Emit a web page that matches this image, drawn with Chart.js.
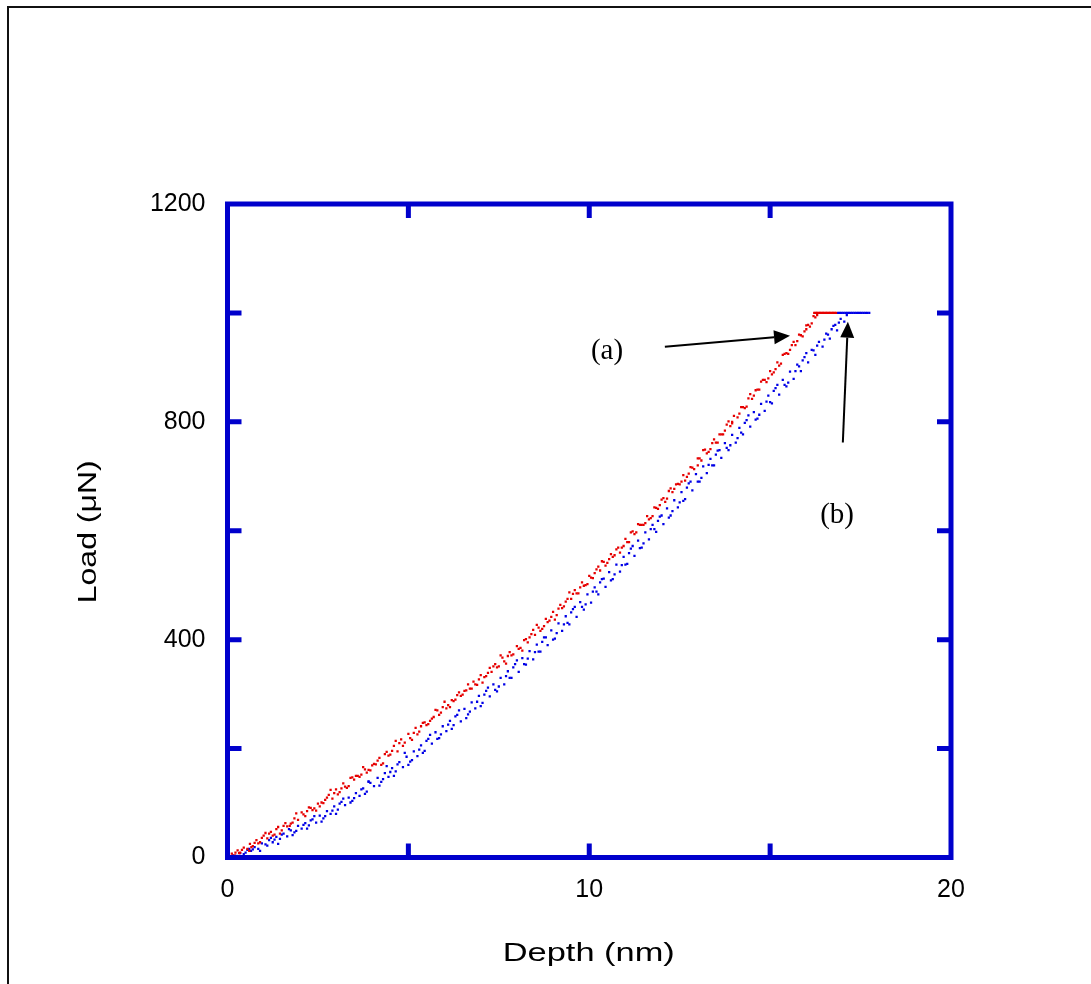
<!DOCTYPE html>
<html>
<head>
<meta charset="utf-8">
<title>Load vs Depth</title>
<script src="https://cdn.jsdelivr.net/npm/chart.js@4/dist/chart.umd.min.js"></script>
<style>
  html, body { margin: 0; padding: 0; background: #fff; }
  #wrap { width: 1091px; height: 984px; }
</style>
</head>
<body>
<div id="wrap"><canvas id="loadChart" width="1091" height="984"></canvas></div>
<script>
'use strict';

/* #################### data #################### */
// axis ranges and labelled ticks
let depthRange = [0, 20];
let loadRange = [0, 1200];
let depthTickLabels = [0, 10, 20];
let loadTickLabels = [0, 400, 800, 1200];

// (a) loading curve, red
let redDepth = [
  0.05, 0.12, 0.2, 0.28, 0.35, 0.45, 0.55, 0.62, 0.7, 0.8, 0.9, 1.0, 1.1, 1.2, 1.3, 1.4, 1.5, 1.6, 1.72, 1.85,
  1.95, 2.05, 2.15, 2.3, 2.4, 2.5, 2.6, 2.7, 2.8, 2.9, 3.0, 3.1, 3.2, 3.3, 3.4, 3.5, 3.6, 3.7, 3.8, 3.9,
  4.0, 4.1, 4.2, 4.3, 4.4, 4.5, 4.6, 4.7, 4.8, 4.9, 5.0, 5.1, 5.2, 5.3, 5.4, 5.5, 5.6, 5.7, 5.8, 5.9,
  6.0, 6.1, 6.2, 6.3, 6.4, 6.5, 6.6, 6.7, 6.8, 6.9, 7.0, 7.1, 7.2, 7.3, 7.4, 7.5, 7.6, 7.7, 7.8, 7.9,
  8.0, 8.1, 8.2, 8.3, 8.4, 8.5, 8.6, 8.7, 8.8, 8.9, 9.0, 9.1, 9.2, 9.3, 9.4, 9.5, 9.6, 9.7, 9.8, 9.9,
  10.0, 10.1, 10.2, 10.3, 10.4, 10.5, 10.6, 10.7, 10.8, 10.9, 11.0, 11.1, 11.2, 11.3, 11.4, 11.5, 11.6, 11.7, 11.8, 11.9,
  12.0, 12.1, 12.2, 12.3, 12.4, 12.5, 12.6, 12.7, 12.8, 12.9, 13.0, 13.1, 13.2, 13.3, 13.4, 13.5, 13.6, 13.7, 13.8, 13.9,
  14.0, 14.1, 14.2, 14.3, 14.4, 14.5, 14.6, 14.7, 14.8, 14.9, 15.0, 15.1, 15.2, 15.3, 15.4, 15.5, 15.6, 15.7, 15.8, 15.9,
  16.0, 16.1, 16.2, 16.3,
  0.15, 0.4, 0.66, 0.95, 1.25, 1.55, 1.8, 2.1, 2.35, 2.65, 2.95, 3.25, 3.55, 3.85, 4.15, 4.45, 4.75, 5.05, 5.35, 5.65,
  5.95, 6.25, 6.55, 6.85, 7.15, 7.45, 7.75, 8.05, 8.35, 8.65, 8.95, 9.25, 9.55, 9.85, 10.15, 10.45, 10.75, 10.95, 11.25, 11.55,
  11.85, 12.15, 12.45, 12.75, 13.05, 13.35, 13.65, 13.95, 14.25, 14.55, 14.85, 15.15, 15.45, 15.75, 16.05, 16.25,
  0.32, 0.75, 1.15, 1.65, 2.2, 2.75, 3.15, 3.65, 4.05, 4.55, 5.15, 5.55, 6.05, 6.45, 6.95, 7.35, 7.85, 8.25, 8.75, 9.15,
  9.65, 10.05, 10.55, 11.05, 11.45, 11.95, 12.35, 12.85, 13.25, 13.75, 14.15, 14.65, 15.05, 15.55, 15.95,
  0.6, 1.05, 1.45, 1.9, 2.45, 2.85, 3.35, 3.75, 4.25, 4.65, 5.25, 5.75, 6.15, 6.65, 7.05, 7.55, 8.15, 8.55, 9.05, 9.45,
  9.95, 10.35, 10.85, 11.35, 11.75, 12.25, 12.65, 13.15, 13.55, 13.85, 14.35, 14.75, 15.25, 15.65, 16.15,
  0.22, 0.85, 1.35, 1.75, 2.25, 2.55, 3.05, 3.45, 3.95, 4.35, 4.85, 5.45, 5.85, 6.35, 6.75, 7.25, 7.65, 8.45, 8.85, 9.35,
  9.75, 10.25, 10.65, 11.15, 11.65, 12.05, 12.55, 13.0, 13.45, 13.95, 14.45, 14.95, 15.35, 15.85, 16.0,
  16.22, 16.26, 16.3, 16.34, 16.38, 16.42, 16.46, 16.5, 16.54, 16.58, 16.62, 16.66, 16.7, 16.74, 16.78, 16.82
];
let redLoad = [
  2, 7, 4, 13, 9, 18, 16, 25, 21, 32, 28, 40, 35, 47, 42, 56, 50, 63, 58, 72,
  69, 83, 76, 91, 90, 99, 101, 106, 115, 108, 125, 120, 136, 128, 146, 143, 150, 152, 162, 161,
  169, 171, 183, 173, 194, 189, 205, 195, 217, 211, 227, 216, 238, 231, 247, 243, 251, 258, 270, 266,
  286, 280, 289, 290, 303, 299, 307, 310, 323, 317, 335, 331, 339, 341, 355, 351, 367, 356, 377, 373,
  388, 385, 399, 395, 410, 409, 422, 420, 438, 435, 451, 445, 464, 461, 475, 475, 491, 485, 505, 500,
  517, 513, 529, 527, 543, 541, 557, 555, 569, 569, 585, 579, 599, 597, 611, 611, 627, 623, 643, 640,
  657, 653, 673, 671, 685, 685, 702, 699, 717, 713, 733, 729, 749, 745, 761, 762, 777, 777, 795, 792,
  811, 808, 827, 825, 843, 842, 858, 859, 877, 873, 893, 891, 909, 907, 925, 925, 941, 941, 960, 957,
  977, 975, 994, 996,
  3, 14, 19, 36, 40, 58, 64, 79, 87, 100, 118, 130, 150, 156, 178, 187, 210, 219, 241, 255,
  276, 287, 306, 318, 333, 349, 370, 383, 404, 416, 442, 458, 484, 499, 522, 536, 566, 572, 594, 614,
  642, 659, 686, 705, 733, 750, 777, 797, 827, 848, 877, 897, 926, 948, 978, 992,
  8, 27, 44, 57, 85, 110, 127, 148, 172, 196, 229, 245, 274, 297, 327, 351, 371, 401, 425, 457,
  485, 514, 548, 579, 611, 647, 677, 716, 742, 784, 815, 859, 887, 932, 966,
  12, 45, 44, 81, 86, 124, 131, 166, 170, 214, 226, 271, 276, 318, 321, 371, 380, 427, 437, 487,
  502, 544, 560, 612, 627, 678, 692, 748, 762, 801, 828, 874, 903, 947, 981,
  9, 26, 52, 62, 92, 94, 116, 147, 160, 190, 205, 248, 262, 298, 310, 348, 360, 418, 432, 470,
  496, 534, 552, 597, 621, 660, 690, 720, 768, 800, 851, 880, 923, 959, 970,
  1000, 1000, 1000, 1000, 1000, 1000, 1000, 1000, 1000, 1000, 1000, 1000, 1000, 1000, 1000, 1000
];

// (b) curve, blue
let blueDepth = [
  0.08, 0.15, 0.25, 0.35, 0.45, 0.55, 0.65, 0.75, 0.85, 0.95, 1.05, 1.15, 1.25, 1.35, 1.45, 1.55, 1.65, 1.75, 1.85, 1.95,
  2.05, 2.15, 2.25, 2.35, 2.45, 2.55, 2.65, 2.75, 2.85, 2.95, 3.05, 3.15, 3.25, 3.35, 3.45, 3.55, 3.65, 3.75, 3.85, 3.95,
  4.05, 4.15, 4.25, 4.35, 4.45, 4.55, 4.65, 4.75, 4.85, 4.95, 5.05, 5.15, 5.25, 5.35, 5.45, 5.55, 5.65, 5.75, 5.85, 5.95,
  6.05, 6.15, 6.25, 6.35, 6.45, 6.55, 6.65, 6.75, 6.85, 6.95, 7.05, 7.15, 7.25, 7.35, 7.45, 7.55, 7.65, 7.75, 7.85, 7.95,
  8.05, 8.15, 8.25, 8.35, 8.45, 8.55, 8.65, 8.75, 8.85, 8.95, 9.05, 9.15, 9.25, 9.35, 9.45, 9.55, 9.65, 9.75, 9.85, 9.95,
  10.05, 10.15, 10.25, 10.35, 10.45, 10.55, 10.65, 10.75, 10.85, 10.95, 11.05, 11.15, 11.25, 11.35, 11.45, 11.55, 11.65, 11.75, 11.85, 11.95,
  12.05, 12.15, 12.25, 12.35, 12.45, 12.55, 12.65, 12.75, 12.85, 12.95, 13.05, 13.15, 13.25, 13.35, 13.45, 13.55, 13.65, 13.75, 13.85, 13.95,
  14.05, 14.15, 14.25, 14.35, 14.45, 14.55, 14.65, 14.75, 14.85, 14.95, 15.05, 15.15, 15.25, 15.35, 15.45, 15.55, 15.65, 15.75, 15.85, 15.95,
  16.05, 16.15, 16.25, 16.35, 16.45, 16.55, 16.65, 16.75, 16.85, 16.95, 17.05, 17.12,
  0.3, 0.7, 1.1, 1.5, 1.9, 2.3, 2.7, 3.1, 3.5, 3.9, 4.3, 4.7, 5.1, 5.5, 5.9, 6.3, 6.7, 7.1, 7.5, 7.9,
  8.3, 8.7, 9.1, 9.5, 9.9, 10.3, 10.7, 11.1, 11.5, 11.9, 12.3, 12.7, 13.1, 13.5, 13.9, 14.3, 14.7, 15.1, 15.5, 15.9,
  16.3, 16.7,
  0.5, 1.3, 2.1, 2.9, 3.7, 4.5, 5.3, 6.1, 6.9, 7.7, 8.5, 9.3, 10.1, 10.9, 11.7, 12.5, 13.3, 14.1, 14.9, 15.7, 16.5,
  0.4, 0.9, 1.4, 1.8, 2.2, 2.6, 3.0, 3.4, 3.8, 4.2, 4.6, 5.0, 5.4, 5.8, 6.2, 6.6, 7.0, 7.4, 7.8, 8.2,
  8.6, 9.0, 9.4, 9.8, 10.2, 10.6, 11.0, 11.4, 11.8, 12.2, 12.6, 13.0, 13.4, 13.8, 14.2, 14.6, 15.0, 15.4, 15.8, 16.2,
  16.6, 16.9,
  0.6, 1.2, 1.7, 2.4, 3.2, 3.9, 4.4, 4.9, 5.6, 6.4, 7.2, 8.0, 8.8, 9.6, 10.4, 11.2, 12.0, 12.8, 13.6, 14.4,
  15.2, 16.0, 16.8,
  16.88, 16.93, 16.98, 17.03, 17.08, 17.13, 17.18, 17.23, 17.28, 17.33, 17.38, 17.43, 17.48, 17.53, 17.58, 17.63, 17.68, 17.74
];
let blueLoad = [
  1, 4, 3, 8, 6, 14, 12, 19, 16, 26, 24, 32, 28, 38, 34, 44, 39, 50, 46, 58,
  53, 63, 59, 70, 64, 77, 72, 85, 80, 94, 88, 102, 96, 110, 104, 118, 113, 127, 121, 137,
  131, 146, 139, 155, 148, 164, 158, 175, 166, 185, 176, 195, 186, 206, 196, 218, 209, 230, 219, 241,
  232, 251, 243, 262, 250, 273, 263, 285, 274, 297, 284, 306, 296, 318, 305, 330, 318, 342, 330, 355,
  341, 366, 354, 379, 364, 391, 378, 404, 390, 417, 402, 430, 416, 443, 428, 456, 442, 469, 455, 483,
  468, 496, 483, 511, 497, 524, 511, 538, 525, 552, 539, 567, 554, 582, 569, 597, 584, 611, 598, 626,
  612, 641, 628, 656, 643, 671, 658, 687, 674, 704, 690, 718, 706, 732, 720, 747, 734, 761, 748, 776,
  762, 789, 777, 803, 791, 818, 806, 833, 820, 848, 834, 862, 850, 877, 865, 892, 879, 905, 893, 919,
  909, 932, 923, 947, 938, 962, 953, 976, 968, 989, 984, 996,
  2, 15, 22, 42, 49, 68, 76, 99, 109, 139, 144, 171, 179, 214, 226, 259, 268, 299, 314, 349,
  365, 396, 412, 450, 465, 505, 520, 559, 577, 618, 636, 679, 697, 740, 757, 798, 813, 857, 872, 913,
  940, 970,
  9, 33, 60, 86, 125, 157, 198, 244, 286, 333, 377, 428, 488, 537, 603, 652, 721, 770, 837, 893, 951,
  1, 12, 25, 41, 53, 66, 80, 101, 117, 132, 150, 170, 192, 218, 236, 256, 278, 308, 330, 355,
  378, 400, 431, 460, 488, 509, 538, 568, 603, 624, 655, 690, 720, 752, 780, 804, 836, 868, 902, 931,
  960, 982,
  16, 36, 52, 76, 108, 140, 168, 192, 225, 270, 312, 362, 404, 460, 512, 572, 628, 690, 748, 812,
  868, 926, 978,
  1000, 1000, 1000, 1000, 1000, 1000, 1000, 1000, 1000, 1000, 1000, 1000, 1000, 1000, 1000, 1000, 1000, 1000
];

// annotation labels and arrow ends, in data units [depth, load]
let labelA = { text: '(a)', at: [10.49, 929] };
let arrowA = { from: [12.09, 938], to: [15.55, 958] };
let labelB = { text: '(b)', at: [16.85, 629] };
let arrowB = { from: [17.01, 762], to: [17.15, 984] };

/* #################### helpers #################### */
function toPoints(xs, ys) {
  let pts = [];
  for (let idx = 0; idx < xs.length; idx++) {
    pts.push({ x: xs[idx], y: ys[idx] });
  }
  return pts;
}

const frameBlue = '#0000cc';

//  draw a stretched text, centred on (cx, cy)
function stretchedText(ctx, text, cx, cy, width, angle) {
  ctx.save();
  ctx.translate(cx, cy);
  ctx.rotate(angle);
  let natural = ctx.measureText(text).width;
  ctx.scale(width / natural, 1);
  ctx.textAlign = 'center';
  ctx.textBaseline = 'middle';
  ctx.fillText(text, 0, 0);
  ctx.restore();
}

function drawArrow(ctx, x1, y1, x2, y2, headLen, headHalf) {
  let ang = Math.atan2(y2 - y1, x2 - x1);
  let bx = x2 - headLen * Math.cos(ang);
  let by = y2 - headLen * Math.sin(ang);
  ctx.beginPath();
  ctx.moveTo(x1, y1);
  ctx.lineTo(bx, by);
  ctx.stroke();
  ctx.beginPath();
  ctx.moveTo(x2, y2);
  ctx.lineTo(bx + headHalf * Math.sin(ang), by - headHalf * Math.cos(ang));
  ctx.lineTo(bx - headHalf * Math.sin(ang), by + headHalf * Math.cos(ang));
  ctx.closePath();
  ctx.fill();
}

/* frame, inward ticks, titles and arrows */
const decorPlugin = {
  id: 'decor',
  beforeDraw(chart) {
    let ctx = chart.ctx;
    ctx.save();
    ctx.fillStyle = '#ffffff';
    ctx.fillRect(0, 0, chart.width, chart.height);
    ctx.strokeStyle = '#111111';
    ctx.lineWidth = 2;
    ctx.strokeRect(8, 7, chart.width + 50, chart.height + 50);
    ctx.restore();
  },
  afterDraw(chart) {
    let ctx = chart.ctx;
    let xs = chart.scales.x;
    let ys = chart.scales.y;
    let area = chart.chartArea;
    ctx.save();

    //  blue box round the plot
    ctx.strokeStyle = frameBlue;
    ctx.lineWidth = 5;
    ctx.lineCap = 'square';
    ctx.strokeRect(area.left, area.top, area.right - area.left, area.bottom - area.top);

    //  inward ticks every 5 nm and every 200 uN
    ctx.lineCap = 'butt';
    for (let v = 5; v < 20; v += 5) {
      let px = xs.getPixelForValue(v);
      ctx.beginPath();
      ctx.moveTo(px, area.bottom);
      ctx.lineTo(px, area.bottom - 14);
      ctx.moveTo(px, area.top);
      ctx.lineTo(px, area.top + 14);
      ctx.stroke();
    }
    for (let v = 200; v < 1200; v += 200) {
      let py = ys.getPixelForValue(v);
      ctx.beginPath();
      ctx.moveTo(area.left, py);
      ctx.lineTo(area.left + 14, py);
      ctx.moveTo(area.right, py);
      ctx.lineTo(area.right - 14, py);
      ctx.stroke();
    }

    //  axis titles
    ctx.fillStyle = '#000000';
    ctx.font = '25px "Liberation Sans", Arial, sans-serif';
    stretchedText(ctx, 'Depth (nm)', (area.left + area.right) / 2 - 0.5, 954, 172, 0);
    stretchedText(ctx, 'Load (\u03bcN)', 89, (area.top + area.bottom) / 2 + 1, 143, -Math.PI / 2);

    //  (a) and (b) labels with their arrows
    ctx.font = '29px "Liberation Serif", "Times New Roman", serif';
    ctx.textAlign = 'center';
    ctx.textBaseline = 'middle';
    ctx.fillText(labelA.text, xs.getPixelForValue(labelA.at[0]), ys.getPixelForValue(labelA.at[1]));
    ctx.fillText(labelB.text, xs.getPixelForValue(labelB.at[0]), ys.getPixelForValue(labelB.at[1]));

    ctx.strokeStyle = '#000000';
    ctx.fillStyle = '#000000';
    ctx.lineWidth = 2;
    drawArrow(ctx, xs.getPixelForValue(arrowA.from[0]), ys.getPixelForValue(arrowA.from[1]),
      xs.getPixelForValue(arrowA.to[0]), ys.getPixelForValue(arrowA.to[1]), 16, 7);
    drawArrow(ctx, xs.getPixelForValue(arrowB.from[0]), ys.getPixelForValue(arrowB.from[1]),
      xs.getPixelForValue(arrowB.to[0]), ys.getPixelForValue(arrowB.to[1]), 16, 7);

    ctx.restore();
  }
};

/* #################### chart #################### */
const data = {
  datasets: [{
    label: '(a)',
    data: toPoints(redDepth, redLoad),
    backgroundColor: '#e60000',
    borderWidth: 0,
    pointStyle: 'rect',
    pointRadius: 1.6
  },
  {
    label: '(b)',
    data: toPoints(blueDepth, blueLoad),
    backgroundColor: '#0000e6',
    borderWidth: 0,
    pointStyle: 'rect',
    pointRadius: 1.6
  }]
};

const tickFont = { family: '"Liberation Sans", Arial, sans-serif', size: 25 };

const config = {
  type: 'scatter',
  data: data,
  options: {
    responsive: false,
    animation: false,
    events: [],
    layout: { padding: { left: 0, top: 204, right: 140, bottom: 0 } },
    plugins: { legend: { display: false }, tooltip: { enabled: false } },
    scales: {
      x: {
        type: 'linear',
        min: depthRange[0],
        max: depthRange[1],
        grid: { display: false, drawTicks: false },
        border: { display: false },
        afterBuildTicks: (scale) => { scale.ticks = depthTickLabels.map(v => ({ value: v })); },
        ticks: { color: '#000000', font: tickFont, padding: 18, maxRotation: 0, callback: (v) => String(v) },
        afterFit: (scale) => { scale.height = 126.5; }
      },
      y: {
        type: 'linear',
        min: loadRange[0],
        max: loadRange[1],
        grid: { display: false, drawTicks: false },
        border: { display: false },
        afterBuildTicks: (scale) => { scale.ticks = loadTickLabels.map(v => ({ value: v })); },
        ticks: { color: '#000000', font: tickFont, padding: 22, callback: (v) => String(v) },
        afterFit: (scale) => { scale.width = 227.5; }
      }
    }
  },
  plugins: [decorPlugin]
};

const loadChart = new Chart(document.getElementById('loadChart'), config);
</script>
</body>
</html>
